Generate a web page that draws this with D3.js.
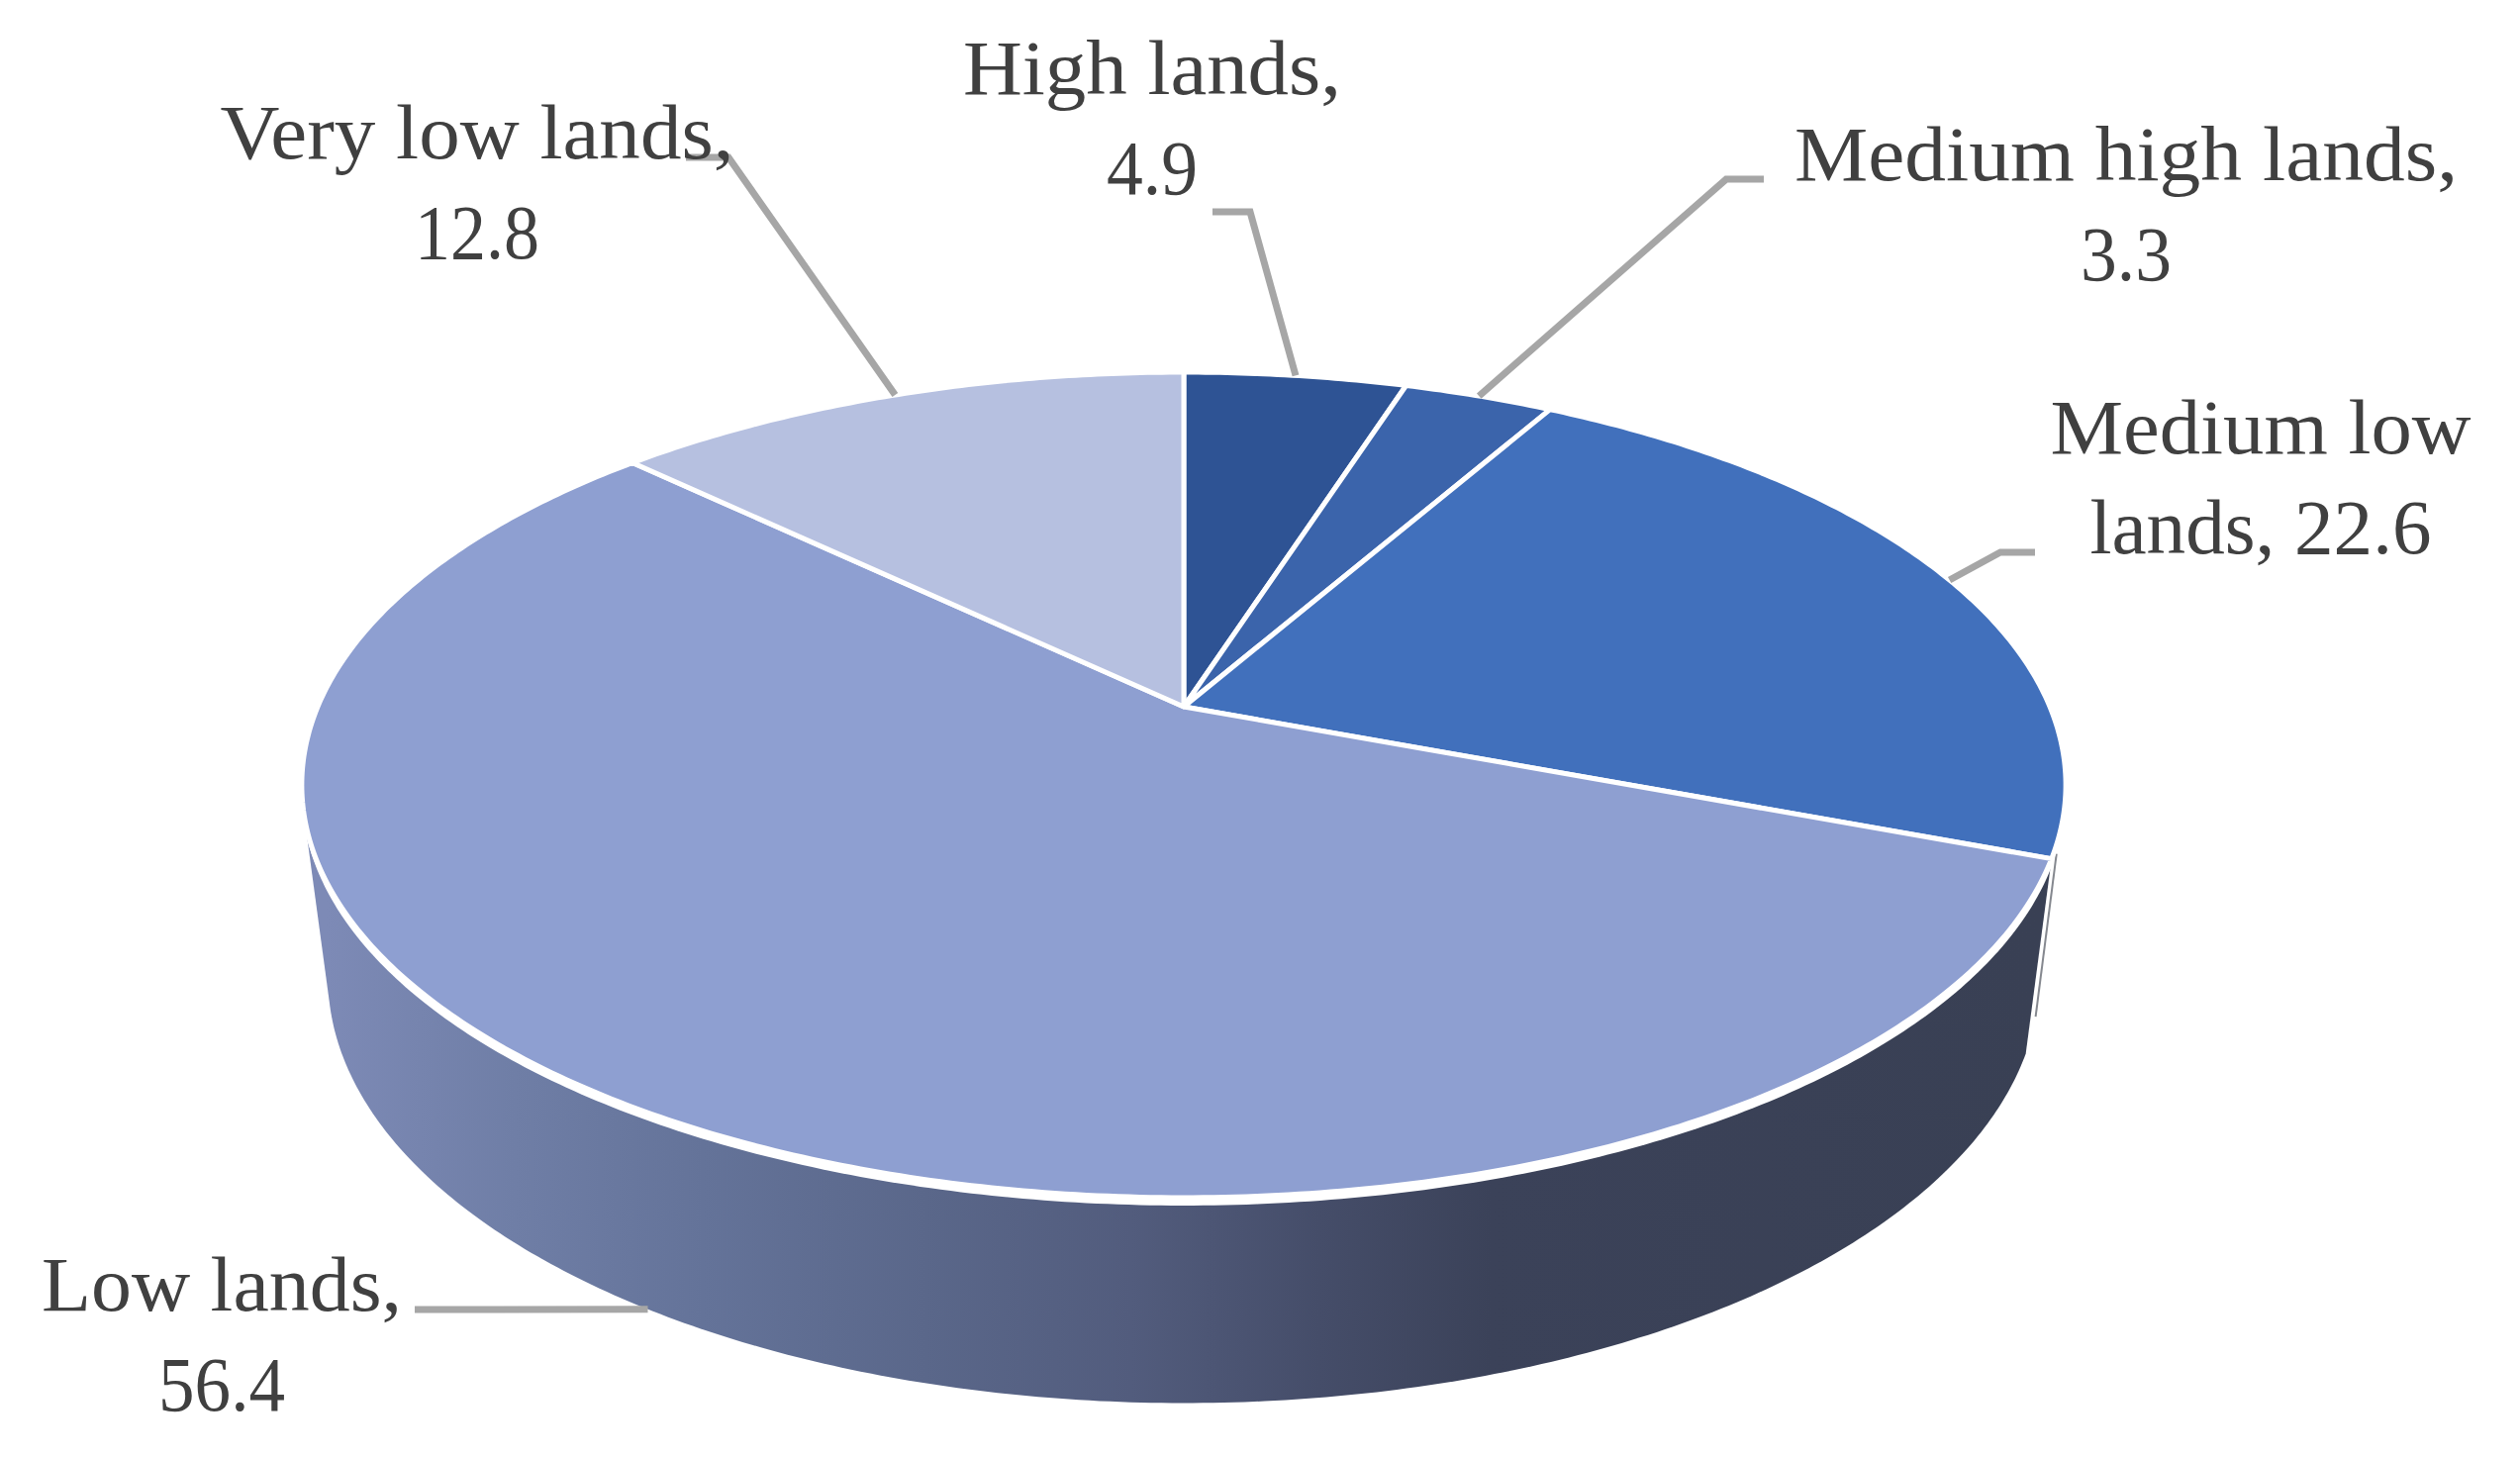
<!DOCTYPE html>
<html lang="en">
  <head>
    <meta charset="utf-8">
    <title>Land classes pie</title>
    <script src="https://d3js.org/d3.v7.min.js"></script>
    <style>
      body { margin: 0; background: white; }
      text { font-family: "Liberation Serif", serif; font-size: 78px; fill: #404040; }
    </style>
  </head>
  <body>
    <script type="text/javascript">

      var w = 2546;
      var h = 1473;

      // data, clockwise from twelve o'clock
      var categories = ["High lands", "Medium high lands", "Medium low lands", "Low lands", "Very low lands"];
      var values = [4.9, 3.3, 22.6, 56.4, 12.8];

      var sliceColors = ["#2e5394", "#3b64ab", "#4170bc", "#8e9fd1", "#b6c0e0"];
      var wallStops = [[0, "#7d8ab6"], [0.11, "#6f7ea6"], [0.22, "#647399"], [0.35, "#5a678a"],
                       [0.47, "#525c7d"], [0.58, "#454d69"], [0.68, "#3b4259"], [1, "#394054"]];

      // label layout: word count on first line, centre x, first baseline, line widths, leader elbow
      var labelBreak = [2, 3, 2, 2, 3];
      var labelX = [1164, 2148, 2284, 224, 482];
      var labelY = [95, 182, 458, 1324, 160];
      var labelWidths = [[382, 92], [670, 92], [425, 345], [364, 128], [519, 126]];
      var leaderStart = [[1225, 214], [1782, 181], [2056, 558], [419, 1323], [693, 159]];
      var leaderElbow = [[1263, 214], [1744, 181], [2021, 558], null, [736, 159]];
      var leaderOnBase = [false, false, false, true, false];

      // tilted disc: u,v on unit circle, the far side is pushed back by k
      var k = 0.1894;
      var topFace = {cx: 1196, apexY: 714, a: 875, b: 402};
      var baseFace = {cx: 1196, apexY: 906, a: 849, b: 414.6};

      function project(face, angle) {
        var u = Math.sin(angle), v = Math.cos(angle);
        var d = 1 + k * v;
        return [face.cx + face.a * u / d, face.apexY - face.b * v / d];
      }

      function rim(face, a0, a1) {
        var n = Math.max(2, Math.ceil((a1 - a0) / 0.01));
        return d3.range(n + 1).map(function(i) {
          return project(face, a0 + (a1 - a0) * i / n);
        });
      }

      var slices = d3.pie().sort(null).value(function(d) { return d })(values);
      var line = d3.line();

      var svg = d3.select("body")
          .append("svg")
          .attr("width", w)
          .attr("height", h);

      svg.append("rect")
          .attr("width", w)
          .attr("height", h)
          .attr("fill", "white");

      var grad = svg.append("defs").append("linearGradient")
          .attr("id", "wall")
          .attr("gradientUnits", "userSpaceOnUse")
          .attr("x1", 330).attr("x2", 2060)
          .attr("y1", 0).attr("y2", 0);

      grad.selectAll("stop")
          .data(wallStops)
          .enter().append("stop")
          .attr("offset", function(d) { return d[0] })
          .attr("stop-color", function(d) { return d[1] });

      var low = slices[3];
      var lowTop = rim(topFace, low.startAngle, low.endAngle);
      var lowBase = rim(baseFace, low.startAngle, low.endAngle);

// thin edge of the Medium low wall, just right of the Low lands wall
      var edgeTop = project(topFace, low.startAngle);
      var edgeBase = project(baseFace, low.startAngle);
      svg.append("line")
          .attr("x1", edgeTop[0] + 5)
          .attr("y1", edgeTop[1] - 5)
          .attr("x2", edgeTop[0] + 5 + (edgeBase[0] - edgeTop[0]) * 0.81)
          .attr("y2", edgeTop[1] + (edgeBase[1] - edgeTop[1]) * 0.81)
          .style("stroke", "#85888f")
          .style("stroke-width", "2px");

// side wall
      svg.append("path")
          .attr("d", line(d3.polygonHull(lowTop.concat(lowBase))) + "Z")
          .attr("fill", "url(#wall)");

// white band along the front rim
      var rimShifted = lowTop.map(function(p) { return [p[0], p[1] + 8] });
      svg.append("path")
          .attr("d", line(d3.polygonHull(lowTop.concat(rimShifted))) + "Z")
          .attr("fill", "white");

// top faces
      svg.append("g")
          .selectAll("path")
          .data(slices)
          .enter().append("path")
          .attr("d", function(d) {
            return line([[topFace.cx, topFace.apexY]].concat(rim(topFace, d.startAngle, d.endAngle))) + "Z";
          })
          .attr("fill", function(d, i) { return sliceColors[i] })
          .style("stroke", "white")
          .style("stroke-width", "5px")
          .style("stroke-linejoin", "round");

// leader lines
      svg.append("g")
          .selectAll("path")
          .data(slices)
          .enter().append("path")
          .attr("d", function(d, i) {
            var mid = (d.startAngle + d.endAngle) / 2;
            var end = project(leaderOnBase[i] ? baseFace : topFace, mid);
            var pts = [leaderStart[i]];
            if (leaderElbow[i]) pts.push(leaderElbow[i]);
            pts.push(end);
            return line(pts);
          })
          .attr("fill", "none")
          .style("stroke", "#a6a6a6")
          .style("stroke-width", "7px");

// labels
      var labels = svg.append("g")
          .selectAll("text")
          .data(categories)
          .enter().append("text");

      labels.each(function(d, i) {
        var words = (d + ", " + values[i]).split(" ");
        var lines = [words.slice(0, labelBreak[i]).join(" "), words.slice(labelBreak[i]).join(" ")];
        d3.select(this).selectAll("tspan")
            .data(lines)
            .enter().append("tspan")
            .attr("x", labelX[i])
            .attr("y", function(t, j) { return labelY[i] + j * 101 })
            .attr("text-anchor", "middle")
            .attr("textLength", function(t, j) { return labelWidths[i][j] })
            .attr("lengthAdjust", "spacingAndGlyphs")
            .text(function(t) { return t });
      });

    </script>
  </body>
</html>
